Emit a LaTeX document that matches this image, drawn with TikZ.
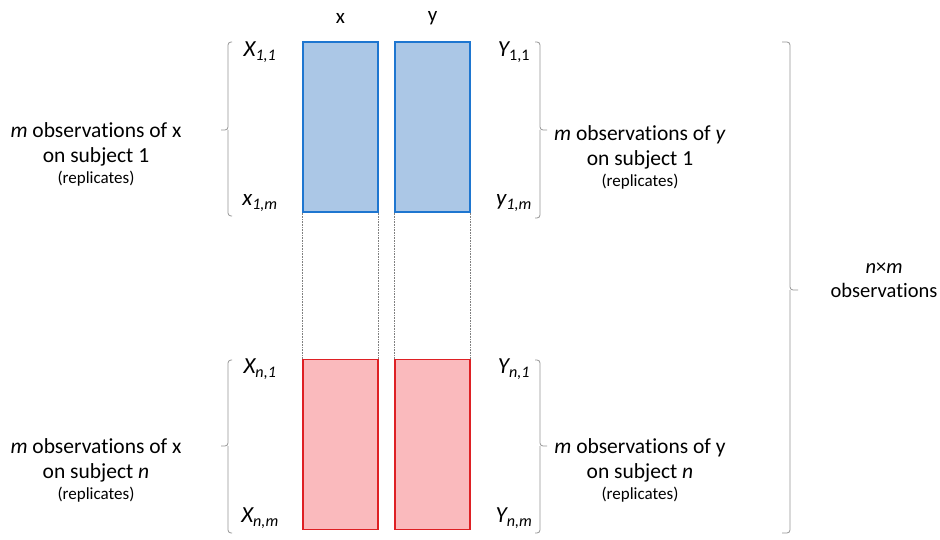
\documentclass[tikz,border=0pt]{standalone}
\usepackage{fontspec}
\setmainfont{Carlito}[Ligatures=NoCommon]
\usetikzlibrary{positioning}

\definecolor{boxblue}{RGB}{171,199,230}
\definecolor{lineblue}{RGB}{30,118,208}
\definecolor{boxred}{RGB}{250,186,189}
\definecolor{linered}{RGB}{222,32,36}
\definecolor{bracegray}{RGB}{150,150,150}

\tikzset{
  obsbox/.style={draw, line width=1.3pt, minimum width=75pt, minimum height=170pt, inner sep=0pt},
  bluebox/.style={obsbox, fill=boxblue, draw=lineblue},
  redbox/.style={obsbox, fill=boxred, draw=linered},
  guide/.style={densely dotted, gray, line width=0.6pt},
  bracket/.style={draw=bracegray, line width=0.8pt, rounded corners=3pt},
  idx/.style={font=\fontsize{23}{25}\selectfont\itshape, inner sep=0pt},
  blurb/.style={align=center, font=\fontsize{21.5}{25}\selectfont, inner sep=0pt},
}
\newcommand{\rep}{{\fontsize{17}{19}\selectfont (replicates)}}

\begin{document}
\begin{tikzpicture}[x=1pt, y=-1pt]
    \useasboundingbox[fill=white] (0,0) rectangle (940,540);

    % Spalten x und y
    \node[bluebox] (x1) at (340.5,127) {};
    \node[bluebox] (y1) at (432.5,127) {};
    \node[redbox]  (xn) at (340.5,444.5) {};
    \node[redbox]  (yn) at (432.5,444.5) {};

    \node[font=\fontsize{21}{24}\selectfont] (xhead) at (340.5,18) {x};
    \node[font=\fontsize{21}{24}\selectfont] (yhead) at (432.5,18) {y};

    % Hilfslinien zwischen den Bloecken
    \draw[guide] (x1.south west) -- (xn.north west);
    \draw[guide] (x1.south east) -- (xn.north east);
    \draw[guide] (y1.south west) -- (yn.north west);
    \draw[guide] (y1.south east) -- (yn.north east);

    % Indizes
    \node[idx] (x11) at (260,52)  {X\textsubscript{1,1}};
    \node[idx] (x1m) at (260,203) {x\textsubscript{1,m}};
    \node[idx] (y11) at (514,52)  {Y\textsubscript{\upshape 1,1}};
    \node[idx] (y1m) at (514,203) {y\textsubscript{1,m}};
    \node[idx] (xn1) at (260,369) {X\textsubscript{n,1}};
    \node[idx] (xnm) at (260,518) {X\textsubscript{n,m}};
    \node[idx] (yn1) at (514,369) {Y\textsubscript{n,1}};
    \node[idx] (ynm) at (514,518) {Y\textsubscript{n,m}};

    % Klammern links
    \draw[bracket] (232,42) -| (228,130) -- (221,130);
    \draw[bracket] (232,216) -| (228,130);
    \draw[bracket] (232,360) -| (228,446) -- (221,446);
    \draw[bracket] (232,533) -| (228,446);

    % Klammern rechts
    \draw[bracket] (535,42) -| (540,130) -- (547,130);
    \draw[bracket] (535,218) -| (540,130);
    \draw[bracket] (535,360) -| (540,446) -- (547,446);
    \draw[bracket] (535,533) -| (540,446);

    % grosse Klammer
    \draw[bracket] (782,42) -| (790,290) -- (798,290);
    \draw[bracket] (782,533) -| (790,290);

    % Beschriftungen
    \node[blurb] (lefttop) at (96,154) {\textit{m} observations of x\\on subject 1\\[-4pt]\rep};
    \node[blurb] (righttop) at (640,157) {\textit{m} observations of \textit{y}\\on subject 1\\[-4pt]\rep};
    \node[blurb] (leftbot) at (96,470) {\textit{m} observations of x\\on subject \textit{n}\\[-4pt]\rep};
    \node[blurb] (rightbot) at (640,470) {\textit{m} observations of y\\on subject \textit{n}\\[-4pt]\rep};
    \node[blurb, font=\fontsize{20.5}{24}\selectfont] (total) at (884,280) {\textit{n}×\textit{m}\\observations};
\end{tikzpicture}
\end{document}
